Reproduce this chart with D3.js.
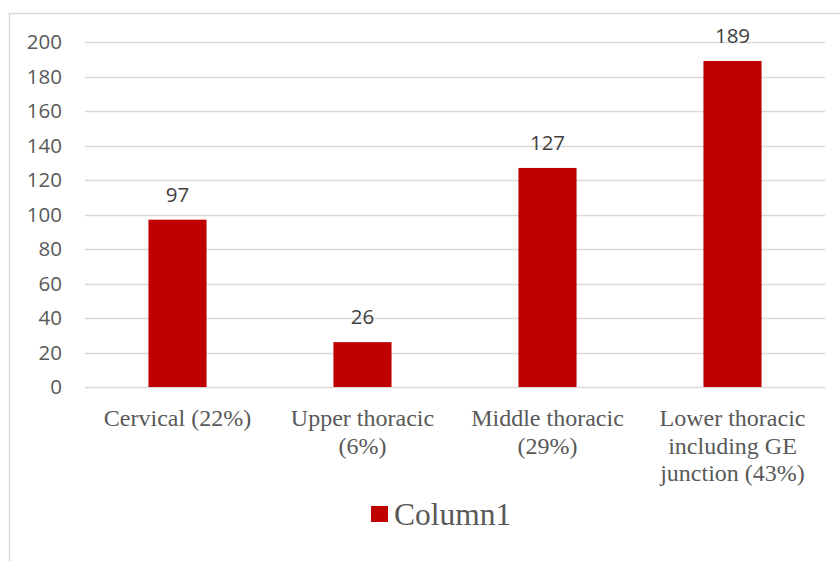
<!DOCTYPE html>
<html>
<head>
<meta charset="utf-8">
<script src="https://cdn.jsdelivr.net/npm/d3@7/dist/d3.min.js"></script>
<style>
  html, body { margin: 0; padding: 0; background: #fff; }
  svg { display: block; }
</style>
</head>
<body>
<svg id="chart" width="840" height="561"></svg>
<script>
const categories = [
  ["Cervical (22%)"],
  ["Upper thoracic", "(6%)"],
  ["Middle thoracic", "(29%)"],
  ["Lower thoracic", "including GE", "junction (43%)"]
];
const values = [97, 26, 127, 189];
const yTicks = [0, 20, 40, 60, 80, 100, 120, 140, 160, 180, 200];
const seriesName = "Column1";

const svg = d3.select("#chart");
const W = 840, H = 561;
const plot = { left: 85, right: 825, top: 42, bottom: 387 };

svg.append("rect")
  .attr("x", 9.5).attr("y", 13.5)
  .attr("width", W).attr("height", H)
  .attr("fill", "#fff").attr("stroke", "#d9d9d9").attr("stroke-width", 1.5);

const keys = categories.map((c, i) => i);
const x = d3.scaleBand().domain(keys).range([plot.left, plot.right])
  .paddingInner(0.686).paddingOuter(0.343);
const y = d3.scaleLinear().domain([0, 200]).range([plot.bottom, plot.top]);

// gridlines
svg.append("g").selectAll("line").data(yTicks).join("line")
  .attr("x1", plot.left).attr("x2", plot.right)
  .attr("y1", d => Math.round(y(d)) + 0.5).attr("y2", d => Math.round(y(d)) + 0.5)
  .attr("stroke", "#d9d9d9").attr("stroke-width", 1.3);

// y axis labels
const yAxis = d3.axisLeft(y).tickValues(yTicks).tickSize(0).tickPadding(23);
const gy = svg.append("g").attr("transform", `translate(${plot.left},0)`).call(yAxis);
gy.select(".domain").remove();
gy.selectAll("text")
  .attr("font-family", "'Open Sans', sans-serif")
  .attr("font-size", 20.5)
  .attr("fill", "#595959");

// bars
svg.append("g").selectAll("rect").data(values).join("rect")
  .attr("x", (d, i) => x(i))
  .attr("y", d => y(d))
  .attr("width", x.bandwidth())
  .attr("height", d => y(0) - y(d))
  .attr("fill", "#c00000");

// data labels
svg.append("g").selectAll("text").data(values).join("text")
  .attr("x", (d, i) => x(i) + x.bandwidth() / 2)
  .attr("y", d => y(d) - 18)
  .attr("text-anchor", "middle")
  .attr("font-family", "'Open Sans', sans-serif")
  .attr("font-size", 20.5)
  .attr("fill", "#404040")
  .text(d => d);

// x category labels
const xl = svg.append("g").selectAll("text").data(categories).join("text")
  .attr("x", (d, i) => x(i) + x.bandwidth() / 2)
  .attr("y", 426)
  .attr("text-anchor", "middle")
  .attr("font-family", "'Liberation Serif', 'Times New Roman', serif")
  .attr("font-size", 24)
  .attr("fill", "#595959");
xl.each(function(lines, i) {
  const t = d3.select(this);
  lines.forEach((ln, j) => {
    t.append("tspan")
      .attr("x", x(i) + x.bandwidth() / 2)
      .attr("dy", j === 0 ? 0 : 27.5)
      .text(ln);
  });
});

// legend
const lg = svg.append("g");
lg.append("rect").attr("x", 371).attr("y", 506).attr("width", 17).attr("height", 16).attr("fill", "#c00000");
lg.append("text").attr("x", 394).attr("y", 525)
  .attr("font-family", "'Liberation Serif', 'Times New Roman', serif")
  .attr("font-size", 31.5)
  .attr("fill", "#595959")
  .text(seriesName);
</script>
</body>
</html>
